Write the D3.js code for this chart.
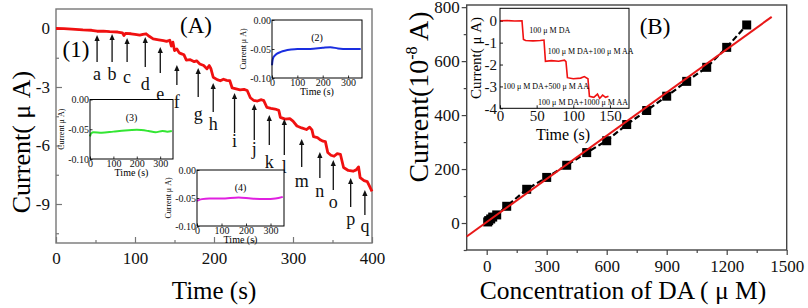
<!DOCTYPE html>
<html><head><meta charset="utf-8">
<script src="https://cdn.jsdelivr.net/npm/d3@7"></script>
<style>
body{margin:0;background:#fff}
svg{font-family:"Liberation Serif","Times New Roman",serif}
</style></head><body><div id="chart"></div>
<script>
// ---------- panel A: amperometric trace ----------
const traceTime = [0,10,20,34,45,52,60,68,78,84,86,88,95,100,106,110,114,118,123,130,136,140,144,146,148,150,153,156,159,162,165,170,175,178,182,187,191,194,196,199,204,208,212,216,220,223,228,233,238,242,246,250,255,260,263,267,272,279,282,284,290,296,300,305,311,317,321,324,326,331,335,338,341,344,348,352,356,360,364,370,376,380,383,385,390,394,397,400];
const traceCurrent = [0,-0.01,-0.03,-0.07,-0.09,-0.14,-0.13,-0.16,-0.18,-0.22,-0.36,-0.25,-0.27,-0.3,-0.34,-0.3,-0.27,-0.4,-0.53,-0.58,-0.62,-0.66,-0.6,-0.9,-0.7,-1.13,-1.05,-1.25,-1.3,-1.35,-1.62,-1.6,-1.7,-1.66,-1.82,-1.9,-2.07,-1.9,-2.05,-2.5,-2.62,-2.68,-2.6,-2.66,-2.68,-3.05,-3.1,-3.15,-3.12,-3.18,-3.55,-3.68,-3.72,-3.65,-3.7,-4.05,-4.1,-4.15,-4.2,-4.56,-4.65,-4.62,-4.75,-5.0,-5.1,-5.18,-5.06,-5.2,-5.55,-5.6,-5.72,-5.78,-5.8,-6.36,-6.5,-6.55,-6.42,-6.45,-7.13,-7.28,-7.32,-7.25,-7.1,-7.65,-7.8,-7.85,-8.1,-8.35];

const arrowLetters = ["a","b","c","d","e","f","g","h","i","j","k","l","m","n","o","p","q"];
const arrowTime = [52,71,90,113,132,153,180,199,226,251,270,289,311,334,351,373,391];
const arrowTip = [-0.33,-0.28,-0.49,-0.44,-0.95,-1.87,-2.03,-2.8,-3.31,-3.87,-4.44,-4.64,-5.67,-6.33,-6.74,-7.67,-8.28];
const arrowTail = [-1.72,-1.72,-1.72,-1.97,-2.28,-2.9,-3.51,-4.28,-5.36,-5.72,-5.97,-6.49,-7.1,-7.67,-8.28,-9.15,-9.56];
const arrowLabel = [-2.38,-2.38,-2.54,-2.9,-3.41,-3.82,-4.44,-4.95,-5.82,-6.23,-6.9,-7.15,-7.87,-8.38,-8.95,-9.82,-10.18];

const xTicksA = [0,100,200,300,400];
const xMinorA = [50,150,250,350];
const yTicksA = [0,-3,-6,-9];
const yMinorA = [-1.5,-4.5,-7.5,-10.5];

// insets of panel A
const insetTicksX = [0,100,200,300];
const insetTicksY = [0,-0.05,-0.1];
const blankTime = [0,2,5,10,20,35,50,75,100,150,200,230,260,300,350];
const blankCurrent = [-0.078,-0.07,-0.065,-0.062,-0.058,-0.055,-0.053,-0.051,-0.05,-0.05,-0.048,-0.047,-0.049,-0.05,-0.05];
const aaTime = [0,5,15,50,100,150,200,250,280,310,330,350];
const aaCurrent = [-0.062,-0.057,-0.055,-0.056,-0.054,-0.052,-0.051,-0.053,-0.055,-0.053,-0.054,-0.053];
const uaTime = [0,20,50,100,170,220,280,320,350];
const uaCurrent = [-0.055,-0.052,-0.051,-0.051,-0.049,-0.051,-0.052,-0.051,-0.048];

// ---------- panel B: calibration ----------
const concDA = [5,10,20,30,50,100,200,300,400,500,600,700,800,900,1000,1100,1200,1300];
const currentDA = [4,9,15,22,30,62,125,169,214,261,305,365,417,470,525,577,651,734];
const fitConc = [-100,1425];
const fitCurrent = [-50,764];
const xTicksB = [0,300,600,900,1200,1500];
const xMinorB = [150,450,750,1050,1350];
const yTicksB = [0,200,400,600,800];
const yMinorB = [-100,100,300,500,700];

// inset of panel B: interference test
const stepTime = [0,10,20,30,32,35,45,55,60,62,70,80,88,90,92,100,110,115,120,122,128,133,136,140,144,148];
const stepCurrent = [0,0.01,-0.01,0,-0.85,-0.9,-0.92,-0.9,-0.88,-1.85,-1.82,-1.85,-1.8,-1.87,-2.6,-2.65,-2.62,-2.55,-2.65,-3.45,-3.5,-3.35,-3.55,-3.4,-3.5,-3.45];
const noteText = ["100 μ M DA","100 μ M DA+100 μ M AA","100 μ M DA+500 μ M AA","100 μ M DA+1000 μ M AA"];
const noteTime = [40,65,4,52];
const noteCurrent = [-0.54,-1.5,-3.14,-3.83];

const svg = d3.select("#chart").append("svg").attr("width",808).attr("height",308);

const styleAxis = (g, color, fs) => {
	g.select(".domain").remove();
	g.selectAll(".tick line").attr("stroke", color).attr("stroke-width", 1.2);
	g.selectAll(".tick text").attr("fill", "#111").attr("font-size", fs).attr("font-family", "Liberation Serif");
}

// ===== Panel A =====
const boxA = {l:56, r:372, t:9, b:243};
const xA = d3.scaleLinear().domain([0,400]).range([boxA.l, boxA.r]);
const yA = d3.scaleLinear().domain([-11,1]).range([boxA.b, boxA.t]);
const gA = svg.append("g");
const grayA = "#777";

gA.append("g").attr("transform", `translate(0,${boxA.b})`)
	.call(d3.axisBottom(xA).tickValues(xMinorA).tickSize(-3).tickFormat(""))
	.call(g => styleAxis(g, grayA, 17));
gA.append("g").attr("transform", `translate(0,${boxA.b})`)
	.call(d3.axisBottom(xA).tickValues(xTicksA).tickSize(-6).tickPadding(9).tickFormat(d => String(d)))
	.call(g => styleAxis(g, grayA, 17));
gA.append("g").attr("transform", `translate(${boxA.l},0)`)
	.call(d3.axisLeft(yA).tickValues(yMinorA).tickSize(-3).tickFormat(""))
	.call(g => styleAxis(g, grayA, 17));
gA.append("g").attr("transform", `translate(${boxA.l},0)`)
	.call(d3.axisLeft(yA).tickValues(yTicksA).tickSize(-6).tickPadding(6).tickFormat(d => String(d)))
	.call(g => styleAxis(g, grayA, 17));
gA.append("rect").attr("x", boxA.l).attr("y", boxA.t)
	.attr("width", boxA.r - boxA.l).attr("height", boxA.b - boxA.t)
	.attr("fill", "none").attr("stroke", grayA).attr("stroke-width", 1.4);

const traceA = traceTime.map((t, i) => [t, traceCurrent[i]]);
gA.append("path").datum(traceA)
	.attr("d", d3.line().x(d => xA(d[0])).y(d => yA(d[1])))
	.attr("fill", "none").attr("stroke", "#f01010").attr("stroke-width", 2.8)
	.attr("stroke-linejoin", "round");

// arrows + letters
arrowTime.forEach((t, i) => {
	const x = xA(t), tip = yA(arrowTip[i]), tail = yA(arrowTail[i]);
	gA.append("line").attr("x1", x).attr("x2", x).attr("y1", tail).attr("y2", tip + 4)
		.attr("stroke", "#111").attr("stroke-width", 1.3);
	gA.append("path").attr("d", `M${x},${tip} L${x-2.6},${tip+6} L${x+2.6},${tip+6} Z`).attr("fill", "#111");
	gA.append("text").attr("x", x).attr("y", yA(arrowLabel[i]) + 5)
		.attr("text-anchor", "middle").attr("font-size", 18).attr("fill", "#111")
		.text(arrowLetters[i]);
});

gA.append("text").attr("x", 196).attr("y", 33).attr("text-anchor", "middle")
	.attr("font-size", 23).text("(A)");
gA.append("text").attr("x", 76).attr("y", 57).attr("text-anchor", "middle")
	.attr("font-size", 23).text("(1)");
gA.append("text").attr("x", 214).attr("y", 299).attr("text-anchor", "middle")
	.attr("font-size", 25).text("Time (s)");
gA.append("text").attr("transform", "translate(30,142) rotate(-90)").attr("text-anchor", "middle")
	.attr("font-size", 26).text("Current( μ A)");

// small insets in panel A
const drawInset = (box, time, vals, color, title) => {
	const g = svg.append("g");
	const x = d3.scaleLinear().domain([0,355]).range([box.l, box.r]);
	const y = d3.scaleLinear().domain([-0.1,0]).range([box.b, box.t]);
	g.append("rect").attr("x", box.l).attr("y", box.t).attr("width", box.r - box.l)
		.attr("height", box.b - box.t).attr("fill", "#fff");
	g.append("g").attr("transform", `translate(0,${box.b})`)
		.call(d3.axisBottom(x).tickValues(insetTicksX).tickSize(-2.5).tickPadding(1).tickFormat(d => String(d)))
		.call(s => styleAxis(s, "#000", 10));
	g.append("g").attr("transform", `translate(${box.l},0)`)
		.call(d3.axisLeft(y).tickValues(insetTicksY).tickSize(-2.5).tickPadding(1).tickFormat(d => d.toFixed(2)))
		.call(s => styleAxis(s, "#000", 10));
	g.selectAll(".tick line").attr("stroke-width", 0.8);
	g.append("path").datum(time.map((t, i) => [t, vals[i]]))
		.attr("d", d3.line().curve(d3.curveMonotoneX).x(d => x(d[0])).y(d => y(d[1])))
		.attr("fill", "none").attr("stroke", color).attr("stroke-width", 2);
	g.append("rect").attr("x", box.l).attr("y", box.t).attr("width", box.r - box.l)
		.attr("height", box.b - box.t).attr("fill", "none").attr("stroke", "#000").attr("stroke-width", 1);
	g.append("text").attr("x", (box.l + box.r) / 2).attr("y", box.t + 21).attr("text-anchor", "middle")
		.attr("font-size", 10).text(title);
	g.append("text").attr("x", (box.l + box.r) / 2).attr("y", box.b + 17).attr("text-anchor", "middle")
		.attr("font-size", 10).text("Time (s)");
	g.append("text").attr("transform", `translate(${box.l - 26},${(box.t + box.b) / 2}) rotate(-90)`)
		.attr("text-anchor", "middle").attr("font-size", 8).text("Current μ A)");
}
drawInset({l:272, r:362, t:20, b:78}, blankTime, blankCurrent, "#1a2ee0", "(2)");
drawInset({l:90, r:173, t:99.5, b:159}, aaTime, aaCurrent, "#33e633", "(3)");
drawInset({l:197, r:284, t:170, b:226}, uaTime, uaCurrent, "#e020e0", "(4)");

// ===== Panel B =====
const boxB = {l:466.7, r:786.7, t:5, b:250};
const xB = d3.scaleLinear().domain([-100,1500]).range([boxB.l, boxB.r]);
const yB = d3.scaleLinear().domain([-100,808]).range([boxB.b, boxB.t]);
const gB = svg.append("g");
const grayB = "#444";

gB.append("g").attr("transform", `translate(0,${boxB.b})`)
	.call(d3.axisBottom(xB).tickValues(xMinorB).tickSize(3).tickFormat(""))
	.call(g => styleAxis(g, grayB, 17));
gB.append("g").attr("transform", `translate(0,${boxB.b})`)
	.call(d3.axisBottom(xB).tickValues(xTicksB).tickSize(5).tickPadding(5).tickFormat(d => String(d)))
	.call(g => styleAxis(g, grayB, 17));
gB.append("g").attr("transform", `translate(${boxB.l},0)`)
	.call(d3.axisLeft(yB).tickValues(yMinorB).tickSize(3).tickFormat(""))
	.call(g => styleAxis(g, grayB, 17));
gB.append("g").attr("transform", `translate(${boxB.l},0)`)
	.call(d3.axisLeft(yB).tickValues(yTicksB).tickSize(5).tickPadding(2).tickFormat(d => String(d)))
	.call(g => styleAxis(g, grayB, 17));
gB.append("rect").attr("x", boxB.l).attr("y", boxB.t)
	.attr("width", boxB.r - boxB.l).attr("height", boxB.b - boxB.t)
	.attr("fill", "none").attr("stroke", grayB).attr("stroke-width", 1.4);

const pts = concDA.map((c, i) => [c, currentDA[i]]);
gB.append("path").datum(pts)
	.attr("d", d3.line().x(d => xB(d[0])).y(d => yB(d[1])))
	.attr("fill", "none").attr("stroke", "#000").attr("stroke-width", 2.2).attr("stroke-dasharray", "6,3");
gB.selectAll("rect.pt").data(pts).join("rect").attr("class", "pt")
	.attr("x", d => xB(d[0]) - 4.5).attr("y", d => yB(d[1]) - 4.5)
	.attr("width", 9).attr("height", 9).attr("fill", "#000");
gB.append("path").datum(fitConc.map((c, i) => [c, fitCurrent[i]]))
	.attr("d", d3.line().x(d => xB(d[0])).y(d => yB(d[1])))
	.attr("stroke", "#e81818").attr("stroke-width", 2);

gB.append("text").attr("x", 655).attr("y", 34).attr("text-anchor", "middle")
	.attr("font-size", 23).text("(B)");
gB.append("text").attr("x", 623).attr("y", 299).attr("text-anchor", "middle")
	.attr("font-size", 25.5).text("Concentration of DA ( μ M)");
const yl = gB.append("text").attr("transform", "translate(428,97) rotate(-90)")
	.attr("text-anchor", "middle").attr("font-size", 28);
yl.append("tspan").text("Current(10");
yl.append("tspan").attr("font-size", 16).attr("dy", -11).text("-8");
yl.append("tspan").attr("dy", 11).text(" A)");

// inset B
const boxI = {l:500, r:629, t:8.3, b:108.3};
const xI = d3.scaleLinear().domain([0,176]).range([boxI.l, boxI.r]);
const yI = d3.scaleLinear().domain([-4,0.57]).range([boxI.b, boxI.t]);
const gI = svg.append("g");
gI.append("rect").attr("x", boxI.l).attr("y", boxI.t).attr("width", boxI.r - boxI.l)
	.attr("height", boxI.b - boxI.t).attr("fill", "#fff");
gI.append("g").attr("transform", `translate(0,${boxI.b})`)
	.call(d3.axisBottom(xI).tickValues([0,50,100,150]).tickSize(-3).tickPadding(2).tickFormat(d => String(d)))
	.call(g => styleAxis(g, "#000", 15));
gI.append("g").attr("transform", `translate(${boxI.l},0)`)
	.call(d3.axisLeft(yI).tickValues([0,-1,-2,-3,-4]).tickSize(-3).tickPadding(3).tickFormat(d => String(d)))
	.call(g => styleAxis(g, "#000", 15));
gI.selectAll(".tick line").attr("stroke-width", 0.9);
gI.append("path").datum(stepTime.map((t, i) => [t, stepCurrent[i]]))
	.attr("d", d3.line().x(d => xI(d[0])).y(d => yI(d[1])))
	.attr("fill", "none").attr("stroke", "#f01010").attr("stroke-width", 1.6);
gI.append("rect").attr("x", boxI.l).attr("y", boxI.t).attr("width", boxI.r - boxI.l)
	.attr("height", boxI.b - boxI.t).attr("fill", "none").attr("stroke", "#000").attr("stroke-width", 1);
noteText.forEach((s, i) => {
	gI.append("text").attr("x", xI(noteTime[i])).attr("y", yI(noteCurrent[i]))
		.attr("font-size", 8).text(s);
});
gI.append("text").attr("x", 563).attr("y", 140).attr("text-anchor", "middle")
	.attr("font-size", 16).text("Time (s)");
gI.append("text").attr("transform", "translate(481,58) rotate(-90)").attr("text-anchor", "middle")
	.attr("font-size", 15).text("Current( μ A)");
</script>
</body></html>
